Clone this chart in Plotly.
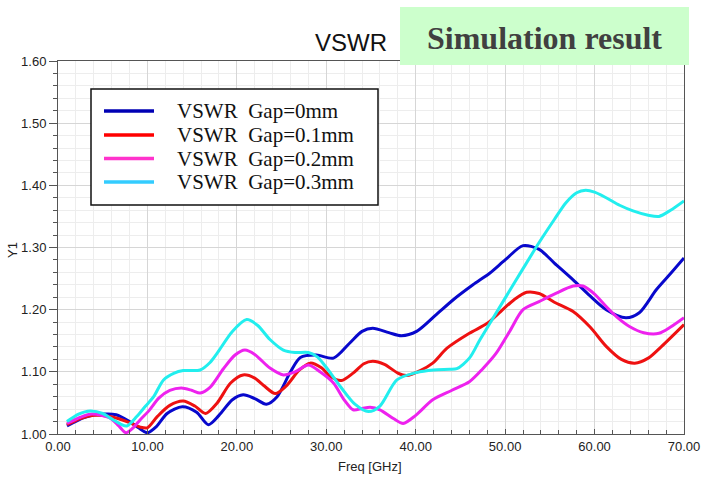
import plotly.graph_objects as go

# ---------------- data ----------------
freq_gap0 = [1.0, 3.0, 5.0, 6.5, 8.0, 9.0, 10.0, 11.0, 12.2, 13.9, 15.5, 16.8, 18.0, 19.5, 20.7,
             22.0, 23.3, 24.5, 26.0, 27.1, 28.9, 30.8, 32.6, 34.0, 35.2, 37.0, 38.4, 40.1, 42.3,
             44.2, 46.4, 48.3, 50.0, 52.0, 53.8, 55.5, 57.6, 59.5, 61.3, 63.5, 65.0, 66.9, 68.5, 70.0]
vswr_gap0 = [1.013, 1.027, 1.032, 1.031, 1.020, 1.010, 1.002, 1.012, 1.033, 1.044, 1.035, 1.015, 1.030,
             1.055, 1.063, 1.057, 1.048, 1.060, 1.100, 1.123, 1.127, 1.122, 1.146, 1.165, 1.170, 1.163,
             1.158, 1.165, 1.192, 1.216, 1.240, 1.259, 1.280, 1.303, 1.297, 1.275, 1.248, 1.222, 1.200,
             1.187, 1.195, 1.232, 1.258, 1.283]

freq_gap01 = [1.0, 2.5, 4.0, 5.8, 7.7, 9.2, 10.0, 11.1, 12.5, 14.0, 15.3, 16.5, 17.8, 19.3, 20.7, 22.0,
              23.0, 24.3, 25.5, 27.0, 28.2, 29.5, 30.5, 31.7, 33.0, 34.2, 35.2, 36.5, 38.0, 39.0, 40.5,
              41.9, 43.5, 46.0, 48.0, 49.5, 51.0, 52.4, 53.8, 55.5, 57.6, 59.5, 61.3, 63.0, 64.5, 66.0,
              67.5, 70.0]
vswr_gap01 = [1.015, 1.025, 1.030, 1.028, 1.020, 1.011, 1.010, 1.028, 1.046, 1.053, 1.045, 1.033, 1.050,
              1.082, 1.095, 1.090, 1.078, 1.065, 1.077, 1.103, 1.114, 1.106, 1.092, 1.086, 1.098, 1.113,
              1.117, 1.112, 1.098, 1.094, 1.102, 1.114, 1.138, 1.162, 1.178, 1.197, 1.216, 1.228, 1.226,
              1.212, 1.197, 1.172, 1.141, 1.120, 1.114, 1.122, 1.141, 1.176]

freq_gap02 = [1.0, 2.5, 3.8, 5.8, 6.8, 7.6, 8.4, 9.2, 10.2, 11.3, 12.5, 13.8, 15.0, 15.9, 17.0, 18.5,
              19.8, 20.9, 22.0, 23.7, 25.2, 26.5, 28.0, 29.3, 30.8, 32.0, 33.0, 34.0, 34.9, 36.0, 37.5,
              38.6, 40.0, 41.9, 44.0, 46.0, 47.5, 49.0, 50.5, 52.0, 53.8, 55.5, 57.6, 58.7, 60.0, 61.3,
              62.5, 63.9, 65.5, 67.2, 68.5, 70.0]
vswr_gap02 = [1.017, 1.027, 1.032, 1.026, 1.013, 1.002, 1.010, 1.023, 1.038, 1.058, 1.070, 1.074, 1.070,
              1.066, 1.075, 1.105, 1.127, 1.135, 1.128, 1.106, 1.095, 1.100, 1.111, 1.100, 1.082, 1.055,
              1.039, 1.041, 1.043, 1.039, 1.025, 1.017, 1.030, 1.055, 1.070, 1.084, 1.105, 1.130, 1.165,
              1.200, 1.213, 1.225, 1.238, 1.238, 1.225, 1.205, 1.188, 1.173, 1.163, 1.162, 1.172, 1.187]

freq_gap03 = [1.0, 2.3, 3.6, 5.0, 5.8, 7.0, 7.7, 8.8, 9.8, 10.7, 11.8, 13.0, 14.0, 15.9, 17.0, 17.8,
              19.5, 21.1, 22.3, 23.7, 25.2, 26.5, 28.0, 29.0, 29.9, 31.7, 33.2, 34.7, 36.0, 37.9, 40.1,
              42.0, 43.8, 44.6, 46.0, 47.2, 50.1, 52.0, 53.8, 55.5, 56.8, 58.0, 59.0, 60.0, 61.3, 62.8,
              64.3, 66.0, 67.2, 68.5, 70.0]
vswr_gap03 = [1.020, 1.032, 1.037, 1.033, 1.026, 1.016, 1.013, 1.028, 1.045, 1.060, 1.087, 1.098, 1.102,
              1.103, 1.115, 1.130, 1.165, 1.184, 1.175, 1.152, 1.135, 1.131, 1.131, 1.124, 1.109, 1.074,
              1.048, 1.036, 1.045, 1.087, 1.099, 1.103, 1.104, 1.105, 1.122, 1.152, 1.221, 1.266, 1.308,
              1.345, 1.372, 1.388, 1.392, 1.389, 1.380, 1.368, 1.359, 1.352, 1.350, 1.360, 1.375]

series_names = ["VSWR  Gap=0mm", "VSWR  Gap=0.1mm", "VSWR  Gap=0.2mm", "VSWR  Gap=0.3mm"]
series_x = [freq_gap0, freq_gap01, freq_gap02, freq_gap03]
series_y = [vswr_gap0, vswr_gap01, vswr_gap02, vswr_gap03]
line_colors = ["#0808cc", "#ee1111", "#ee22ee", "#22eeee"]
legend_colors = ["#0000b4", "#ff0000", "#ff33cc", "#33ccff"]

x_range = [0, 70]
y_range = [1.0, 1.6]
x_ticks = [0, 10, 20, 30, 40, 50, 60, 70]
y_ticks = [1.0, 1.1, 1.2, 1.3, 1.4, 1.5, 1.6]

# ---------------- figure ----------------
W, H = 701, 480
ML, MR, MT, MB = 58, 17, 61, 46
PW, PH = W - ML - MR, H - MT - MB


def px(x):
    return (x - ML) / PW


def py(y):
    return (H - MB - y) / PH


fig = go.Figure()
for name, xs, ys, c in zip(series_names, series_x, series_y, line_colors):
    fig.add_trace(go.Scatter(x=xs, y=ys, name=name, mode="lines",
                             line=dict(color=c, width=3, shape="spline", smoothing=0.8),
                             showlegend=False))

axis_common = dict(
    showline=True, linecolor="#555555", linewidth=1, mirror=True,
    showgrid=True, gridcolor="#d6d6d6", gridwidth=1,
    tickfont=dict(family="Liberation Sans, Arial", size=13, color="#222222"),
    tickformat=".2f", zeroline=False, tickcolor="#555555", automargin=False,
)

fig.update_xaxes(
    range=x_range, tickvals=x_ticks, ticks="inside", ticklen=5,
    minor=dict(dtick=2, showgrid=True, gridcolor="#ededed", ticks="inside", ticklen=4,
               tickcolor="#555555"),
    **axis_common,
)
fig.update_yaxes(
    range=y_range, tickvals=y_ticks, ticks="outside", ticklen=8,
    minor=dict(dtick=0.02, showgrid=True, gridcolor="#ededed", ticks="outside", ticklen=4,
               tickcolor="#555555"),
    **axis_common,
)

shapes = []
annotations = []

label_font = dict(family="Liberation Sans, Arial", size=13, color="#222222")
# Axis titles
annotations.append(dict(text="Freq [GHz]", xref="paper", yref="paper", x=px(370), y=py(466),
                        xanchor="center", yanchor="middle", showarrow=False, font=label_font))
annotations.append(dict(text="Y1", xref="paper", yref="paper", x=px(12), y=py(250),
                        xanchor="center", yanchor="middle", showarrow=False, textangle=-90,
                        font=label_font))

# Title
annotations.append(dict(text="VSWR", xref="paper", yref="paper", x=px(351), y=py(42.5),
                        xanchor="center", yanchor="middle", showarrow=False,
                        font=dict(family="Liberation Sans, Arial", size=24, color="#111111")))

# Green "Simulation result" box
shapes.append(dict(type="rect", xref="paper", yref="paper", x0=px(400), x1=px(689),
                   y0=py(65), y1=py(7), fillcolor="#ccffcc", line=dict(width=0), layer="above"))
annotations.append(dict(text="Simulation result", xref="paper", yref="paper", x=px(544), y=py(38),
                        xanchor="center", yanchor="middle", showarrow=False,
                        font=dict(family="Liberation Serif, Times New Roman", size=32,
                                  color="#404040", weight="bold")))

# Legend box
shapes.append(dict(type="rect", xref="paper", yref="paper", x0=px(91), x1=px(378),
                   y0=py(205), y1=py(89), fillcolor="white",
                   line=dict(color="#111111", width=1.5), layer="above"))
row_y = [111, 135, 158.5, 182]
for name, c, ry in zip(series_names, legend_colors, row_y):
    shapes.append(dict(type="line", xref="paper", yref="paper", x0=px(104), x1=px(154),
                       y0=py(ry), y1=py(ry), line=dict(color=c, width=3.5), layer="above"))
    annotations.append(dict(text=name.replace("  ", "&nbsp;&nbsp;"), xref="paper", yref="paper",
                            x=px(175), y=py(ry), xanchor="left", yanchor="middle", showarrow=False,
                            font=dict(family="Liberation Serif, Times New Roman", size=21,
                                      color="#111111")))

fig.update_layout(
    width=W, height=H,
    margin=dict(l=ML, r=MR, t=MT, b=MB, autoexpand=False),
    paper_bgcolor="white", plot_bgcolor="white",
    shapes=shapes, annotations=annotations,
    showlegend=False,
)

fig.write_html("out.html")
